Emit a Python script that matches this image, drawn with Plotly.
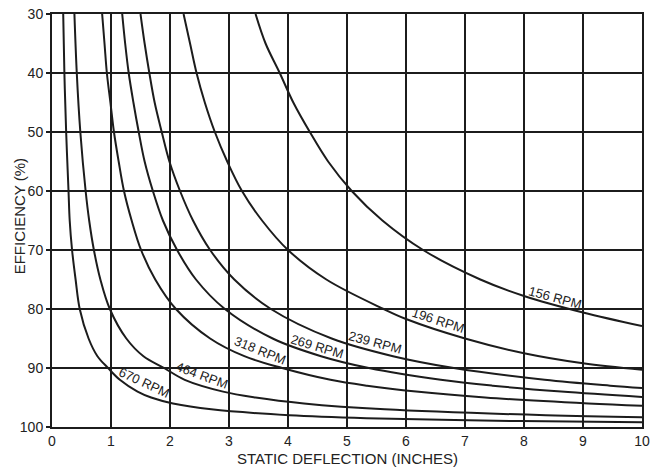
import plotly.graph_objects as go

# Static deflection (inches) / efficiency (%)
rpm670_x = [0.19, 0.21, 0.24, 0.28, 0.30, 0.34, 0.40, 0.47, 0.62, 0.77, 0.95, 1.15, 1.45, 1.68, 2.05, 2.70, 4.02, 5.33, 7.95, 10]
rpm670_y = [30, 40, 50, 60, 65, 70, 75, 80, 85, 88, 90, 92, 94, 95, 96, 97, 98, 98.5, 99, 99.2]

rpm464_x = [0.38, 0.42, 0.48, 0.57, 0.63, 0.71, 0.82, 0.98, 1.26, 1.55, 1.90, 2.25, 2.90, 3.45, 4.27, 5.64, 8.37, 10]
rpm464_y = [30, 40, 50, 60, 65, 70, 75, 80, 85, 88, 90, 92, 94, 95, 96, 97, 98, 98.33]

rpm318_x = [0.85, 0.89, 0.93, 0.99, 1.05, 1.13, 1.22, 1.35, 1.51, 1.75, 2.10, 2.68, 3.26, 3.90, 4.72, 5.34, 6.17, 7.34, 9.09, 10]
rpm318_y = [30, 35, 40, 45, 50, 55, 60, 65, 70, 75, 80, 85, 88, 90, 92, 93, 94, 95, 96, 96.4]

rpm269_x = [1.19, 1.24, 1.30, 1.38, 1.47, 1.57, 1.71, 1.88, 2.12, 2.44, 2.93, 3.74, 4.56, 5.37, 6.59, 7.47, 8.63, 10]
rpm269_y = [30, 35, 40, 45, 50, 55, 60, 65, 70, 75, 80, 85, 88, 90, 92, 93, 94, 94.9]

rpm239_x = [1.50, 1.57, 1.65, 1.74, 1.86, 1.99, 2.17, 2.39, 2.68, 3.09, 3.71, 4.74, 5.78, 6.81, 8.35, 9.46, 10]
rpm239_y = [30, 35, 40, 45, 50, 55, 60, 65, 70, 75, 80, 85, 88, 90, 92, 93, 93.4]

rpm196_x = [2.23, 2.34, 2.45, 2.59, 2.76, 2.97, 3.22, 3.56, 4.00, 4.65, 5.62, 6.0, 7.0, 8.0, 9.0, 10]
rpm196_y = [30, 35, 40, 45, 50, 55, 60, 65, 70, 75, 80, 81.7, 85.0, 87.5, 89.2, 90.3]

rpm156_x = [3.45, 3.62, 3.86, 4.09, 4.37, 4.68, 5.08, 5.60, 6.29, 7.26, 8.0, 9.0, 10]
rpm156_y = [30, 35, 40, 45, 50, 55, 60, 65, 70, 75, 77.8, 80.6, 82.9]

curve_names = ["670 RPM", "464 RPM", "318 RPM", "269 RPM", "239 RPM", "196 RPM", "156 RPM"]
curve_xs = [rpm670_x, rpm464_x, rpm318_x, rpm269_x, rpm239_x, rpm196_x, rpm156_x]
curve_ys = [rpm670_y, rpm464_y, rpm318_y, rpm269_y, rpm239_y, rpm196_y, rpm156_y]

# label anchor positions (deflection, efficiency) and text angles
label_x = [1.56, 2.55, 3.53, 4.49, 5.48, 6.55, 8.52]
label_y = [92.5, 91.2, 87.0, 86.4, 85.7, 82.0, 78.1]
label_angle = [25, 20, 22, 17, 15, 18, 15]

x_ticks = list(range(0, 11))
y_ticks = list(range(30, 101, 10))

INK = "#1c1c1c"
TXT = "#222222"
FONT = "Liberation Sans, Arial, Helvetica, sans-serif"

fig = go.Figure()
for name, xs, ys in zip(curve_names, curve_xs, curve_ys):
    fig.add_trace(go.Scatter(
        x=xs, y=ys, mode="lines", name=name,
        line=dict(color=INK, width=2, shape="spline", smoothing=1.0),
        showlegend=False, hoverinfo="skip",
    ))

for name, lx, ly, ang in zip(curve_names, label_x, label_y, label_angle):
    fig.add_annotation(
        x=lx, y=ly, text=name, showarrow=False, textangle=ang,
        font=dict(family=FONT, size=13, color=INK),
    )

# axis titles
fig.add_annotation(
    xref="paper", yref="paper", x=0.5, y=-0.077, yanchor="middle",
    text="STATIC DEFLECTION (INCHES)", showarrow=False,
    font=dict(family=FONT, size=15, color=TXT),
)
fig.add_annotation(
    xref="paper", yref="paper", x=-0.056, y=0.51, xanchor="center", yanchor="middle",
    text="EFFICIENCY (%)", showarrow=False, textangle=-90,
    font=dict(family=FONT, size=15, color=TXT),
)

axis_common = dict(
    showgrid=True, gridcolor=INK, gridwidth=1.5,
    showline=True, linecolor=INK, linewidth=2, mirror=True,
    zeroline=False, automargin=False,
    tickfont=dict(family=FONT, size=14, color=TXT),
)

fig.update_layout(
    width=657, height=468,
    margin=dict(l=52, r=15, t=14, b=41),
    paper_bgcolor="white", plot_bgcolor="white",
    xaxis=dict(range=[0, 10], tickvals=x_ticks, ticks="", **axis_common),
    yaxis=dict(
        range=[100, 30], tickvals=y_ticks, ticks="outside", ticklen=4,
        tickcolor=INK, tickwidth=1.5, **axis_common,
    ),
)

fig.write_html(
    "out.html",
    config={"displayModeBar": False},
    post_script="document.body.style.margin='0';document.body.style.overflow='hidden';",
)
